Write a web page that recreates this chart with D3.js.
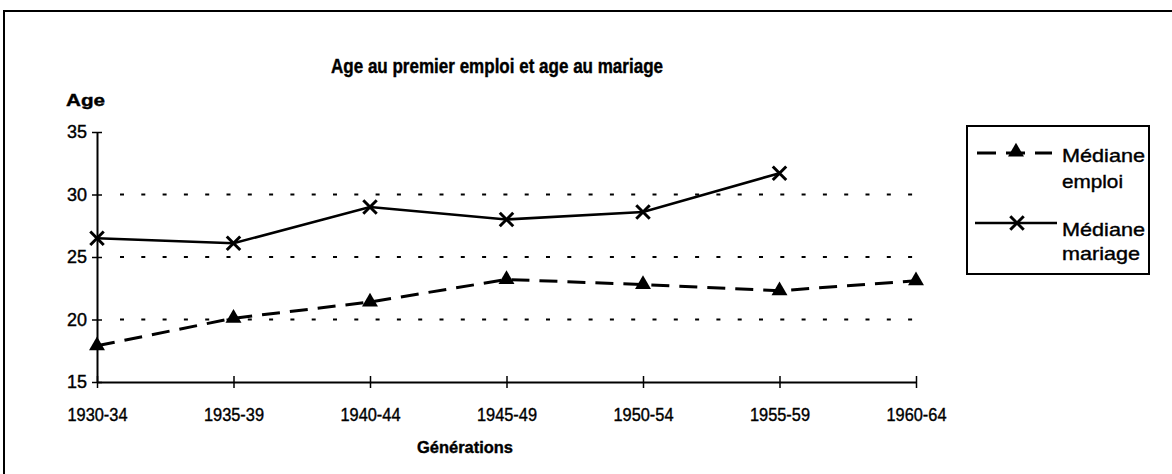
<!DOCTYPE html>
<html>
<head>
<meta charset="utf-8">
<script src="https://cdn.jsdelivr.net/npm/d3@7"></script>
<style>
  html, body { margin: 0; padding: 0; background: #fff; }
  svg { display: block; }
</style>
</head>
<body>
<svg id="chart" width="1172" height="474"></svg>
<script>
// ---- Data ----
const categories = ["1930-34", "1935-39", "1940-44", "1945-49", "1950-54", "1955-59", "1960-64"];
const emploi  = [17.9, 20.1, 21.4, 23.2, 22.8, 22.3, 23.1];
const mariage = [26.5, 26.1, 29.0, 28.0, 28.6, 31.7, null];
const yTicks = [15, 20, 25, 30, 35];
const gridValues = [20, 25, 30];
const titleText = "Age au premier emploi et age au mariage";
const yLabel = "Age";
const xLabel = "Générations";

// ---- Setup ----
const svg = d3.select("#chart");
const FONT = "'Liberation Sans', Arial, Helvetica, sans-serif";

const x = d3.scalePoint().domain(categories).range([97, 916]).padding(0);
const y = d3.scaleLinear().domain([15, 35]).range([382, 132]);

// outer frame (extends past the picture on right and bottom)
svg.append("rect")
  .attr("x", 4).attr("y", 11)
  .attr("width", 1300).attr("height", 700)
  .attr("fill", "none").attr("stroke", "#000").attr("stroke-width", 2);

// title
svg.append("text")
  .attr("x", 331).attr("y", 73)
  .attr("font-family", FONT).attr("font-weight", "bold").attr("font-size", 20)
  .attr("textLength", 332).attr("lengthAdjust", "spacingAndGlyphs")
  .attr("stroke", "#000").attr("stroke-width", 0.4)
  .text(titleText);

// y label
svg.append("text")
  .attr("x", 66).attr("y", 106)
  .attr("font-family", FONT).attr("font-weight", "bold").attr("font-size", 17)
  .attr("textLength", 39).attr("lengthAdjust", "spacingAndGlyphs")
  .attr("stroke", "#000").attr("stroke-width", 0.4)
  .text(yLabel);

// gridlines
svg.append("g").selectAll("line")
  .data(gridValues).join("line")
  .attr("x1", 120).attr("x2", 916)
  .attr("y1", d => y(d)).attr("y2", d => y(d))
  .attr("stroke", "#000").attr("stroke-width", 2)
  .attr("stroke-dasharray", "4,17.3");

// y axis
const yAxis = svg.append("g")
  .attr("transform", `translate(${x(categories[0])},0)`)
  .call(d3.axisLeft(y).tickValues(yTicks).tickSize(5).tickPadding(5).tickSizeOuter(0));
yAxis.select(".domain").attr("stroke-width", 2);
yAxis.selectAll(".tick line").attr("x1", 5).attr("x2", -5).attr("stroke-width", 1.5);
yAxis.selectAll(".tick text")
  .attr("font-family", FONT).attr("font-size", 18).attr("fill", "#000")
  .attr("textLength", 20).attr("lengthAdjust", "spacingAndGlyphs")
  .attr("stroke", "#000").attr("stroke-width", 0.4);

// x axis
const xAxis = svg.append("g")
  .attr("transform", `translate(0,${y(15)})`)
  .call(d3.axisBottom(x).tickSize(6).tickSizeOuter(0));
xAxis.select(".domain").attr("stroke-width", 2);
xAxis.selectAll(".tick line").attr("y1", -6).attr("y2", 6).attr("stroke-width", 1.5);
xAxis.selectAll(".tick text")
  .attr("y", 26)
  .attr("font-family", FONT).attr("font-size", 18).attr("fill", "#000")
  .attr("textLength", 60).attr("lengthAdjust", "spacingAndGlyphs")
  .attr("stroke", "#000").attr("stroke-width", 0.4);

// x label
svg.append("text")
  .attr("x", 417).attr("y", 453)
  .attr("font-family", FONT).attr("font-weight", "bold").attr("font-size", 17)
  .attr("textLength", 96).attr("lengthAdjust", "spacingAndGlyphs")
  .attr("stroke", "#000").attr("stroke-width", 0.4)
  .text(xLabel);

// lines
const line = d3.line()
  .defined(d => d.v != null)
  .x(d => x(d.c)).y(d => y(d.v));

const emploiData = categories.map((c, i) => ({ c, v: emploi[i] }));
const mariageData = categories.map((c, i) => ({ c, v: mariage[i] }));

svg.append("path").datum(emploiData)
  .attr("d", line).attr("fill", "none")
  .attr("stroke", "#000").attr("stroke-width", 3)
  .attr("stroke-dasharray", "18,10");

svg.append("path").datum(mariageData)
  .attr("d", line).attr("fill", "none")
  .attr("stroke", "#000").attr("stroke-width", 2.6);

// markers
const tri = d3.symbol().type(d3.symbolTriangle).size(110);
svg.append("g").selectAll("path")
  .data(emploiData.filter(d => d.v != null)).join("path")
  .attr("d", tri)
  .attr("transform", d => `translate(${x(d.c)},${y(d.v)})`)
  .attr("fill", "#000");

const xSym = d3.symbol().type(d3.symbolX).size(120);
svg.append("g").selectAll("path")
  .data(mariageData.filter(d => d.v != null)).join("path")
  .attr("d", xSym)
  .attr("transform", d => `translate(${x(d.c)},${y(d.v)})`)
  .attr("fill", "none").attr("stroke", "#000").attr("stroke-width", 3);

// legend
const lg = svg.append("g");
lg.append("rect")
  .attr("x", 967).attr("y", 126).attr("width", 182).attr("height", 148)
  .attr("fill", "#fff").attr("stroke", "#000").attr("stroke-width", 2);

lg.append("line")
  .attr("x1", 977).attr("x2", 1052).attr("y1", 153).attr("y2", 153)
  .attr("stroke", "#000").attr("stroke-width", 3).attr("stroke-dasharray", "19,10");
lg.append("path").attr("d", tri).attr("transform", "translate(1016,152)").attr("fill", "#000");

lg.append("line")
  .attr("x1", 975).attr("x2", 1057).attr("y1", 223).attr("y2", 223)
  .attr("stroke", "#000").attr("stroke-width", 2.6);
lg.append("path").attr("d", xSym).attr("transform", "translate(1017,223)")
  .attr("fill", "none").attr("stroke", "#000").attr("stroke-width", 3);

const legendLines = [
  { t: "Médiane", yy: 162, w: 83 }, { t: "emploi", yy: 188, w: 61 },
  { t: "Médiane", yy: 236, w: 83 }, { t: "mariage", yy: 260, w: 78 }
];
lg.selectAll("text.lt").data(legendLines).join("text")
  .attr("class", "lt")
  .attr("x", 1062).attr("y", d => d.yy)
  .attr("font-family", FONT).attr("font-size", 19)
  .attr("textLength", d => d.w).attr("lengthAdjust", "spacingAndGlyphs")
  .attr("stroke", "#000").attr("stroke-width", 0.4)
  .text(d => d.t);
</script>
</body>
</html>
